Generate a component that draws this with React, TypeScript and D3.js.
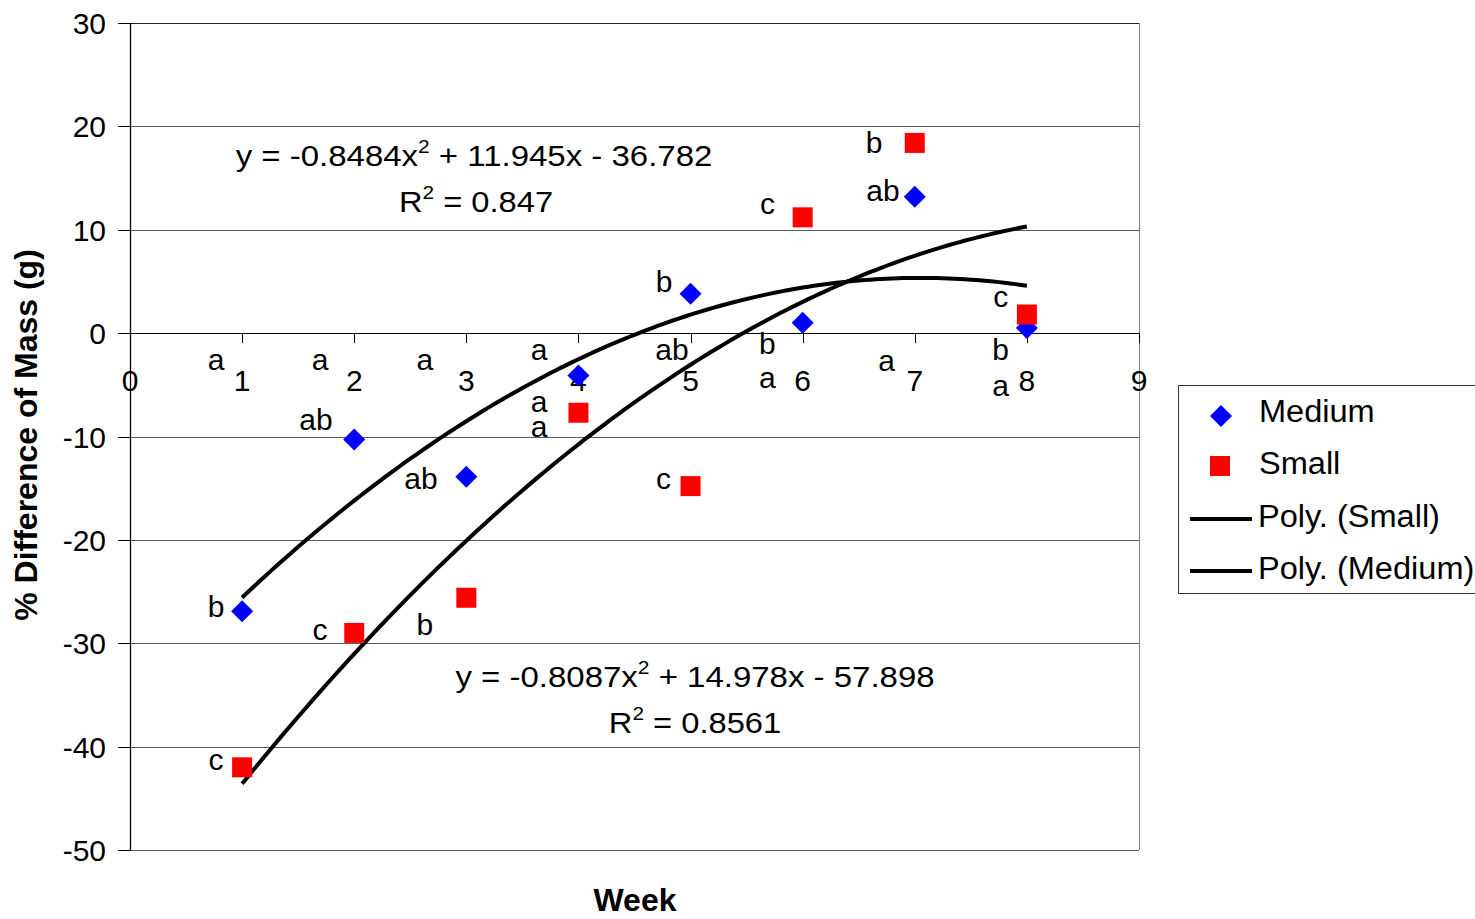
import React from 'react';
import * as d3 from 'd3';

const weeks = [1, 2, 3, 4, 5, 6, 7, 8];
const mediumValues = [-26.9, -10.3, -13.9, -4.1, 3.8, 1.0, 13.2, 0.5];
const smallValues = [-42.0, -29.0, -25.6, -7.7, -14.8, 11.2, 18.4, 1.8];
const xTicks = [0, 1, 2, 3, 4, 5, 6, 7, 8, 9];
const yTicks = [-50, -40, -30, -20, -10, 0, 10, 20, 30];

// significance letters, placed in data coordinates (week, value at text baseline)
const letterLabels = [
  { w: 0.767, v: -3.56, t: 'a' },
  { w: 0.767, v: -27.47, t: 'b' },
  { w: 0.767, v: -42.26, t: 'c' },
  { w: 1.695, v: -3.56, t: 'a' },
  { w: 1.659, v: -9.37, t: 'ab' },
  { w: 1.695, v: -29.68, t: 'c' },
  { w: 2.631, v: -3.56, t: 'a' },
  { w: 2.596, v: -15.08, t: 'ab' },
  { w: 2.631, v: -29.2, t: 'b' },
  { w: 3.648, v: -2.6, t: 'a' },
  { w: 3.648, v: -7.6, t: 'a' },
  { w: 3.648, v: -10.0, t: 'a' },
  { w: 4.835, v: -2.6, t: 'ab' },
  { w: 4.763, v: 3.96, t: 'b' },
  { w: 4.759, v: -15.08, t: 'c' },
  { w: 5.686, v: -1.98, t: 'b' },
  { w: 5.686, v: -5.3, t: 'a' },
  { w: 5.686, v: 11.52, t: 'c' },
  { w: 6.748, v: -3.64, t: 'a' },
  { w: 6.636, v: 17.39, t: 'b' },
  { w: 6.716, v: 12.78, t: 'ab' },
  { w: 7.766, v: -2.64, t: 'b' },
  { w: 7.766, v: -6.12, t: 'a' },
  { w: 7.766, v: 2.55, t: 'c' },
];

const mediumEq = ['y = -0.8484x', '2', ' + 11.945x - 36.782'];
const mediumR2 = ['R', '2', ' = 0.847'];
const smallEq = ['y = -0.8087x', '2', ' + 14.978x - 57.898'];
const smallR2 = ['R', '2', ' = 0.8561'];
const legendLabels = ['Medium', 'Small', 'Poly. (Small)', 'Poly. (Medium)'];

function polyFit2(xs: number[], ys: number[]) {
  let s0 = 0, s1 = 0, s2 = 0, s3 = 0, s4 = 0, t0 = 0, t1 = 0, t2 = 0;
  xs.forEach((x, i) => {
    const y = ys[i];
    s0 += 1; s1 += x; s2 += x * x; s3 += x ** 3; s4 += x ** 4;
    t0 += y; t1 += x * y; t2 += x * x * y;
  });
  const det3 = (m: number[][]) =>
    m[0][0] * (m[1][1] * m[2][2] - m[1][2] * m[2][1]) -
    m[0][1] * (m[1][0] * m[2][2] - m[1][2] * m[2][0]) +
    m[0][2] * (m[1][0] * m[2][1] - m[1][1] * m[2][0]);
  const M = [[s4, s3, s2], [s3, s2, s1], [s2, s1, s0]];
  const T = [t2, t1, t0];
  const D = det3(M);
  const rep = (col: number) => M.map((row, i) => row.map((v, j) => (j === col ? T[i] : v)));
  return [det3(rep(0)) / D, det3(rep(1)) / D, det3(rep(2)) / D];
}

const FONT = '"Liberation Sans", Arial, sans-serif';
const FS = 30;

export default function App() {
  const x = d3.scaleLinear().domain([0, 9]).range([130, 1139]);
  const y = d3.scaleLinear().domain([-50, 30]).range([850, 23]);
  const crisp = (v: number) => Math.round(v) + 0.5;

  const trend = (vals: number[]) => {
    const [a, b, c] = polyFit2(weeks, vals);
    const pts = d3.range(1, 8.0001, 0.05).map((w) => [w, a * w * w + b * w + c] as [number, number]);
    return d3.line<[number, number]>().x((d) => x(d[0])).y((d) => y(d[1]))(pts) || '';
  };

  const diamond = (r: number) => `M0,${-r}L${r},0L0,${r}L${-r},0Z`;

  const supText = (parts: string[], cx: number, by: number, sx: number) => (
    <g transform={`translate(${cx},${by}) scale(${sx},1)`}>
      <text x={0} y={0} textAnchor="middle" fontSize={FS} fontFamily={FONT} fill="#000">
        {parts[0]}
        <tspan fontSize={19} dy={-13}>{parts[1]}</tspan>
        <tspan dy={13}>{parts[2]}</tspan>
      </text>
    </g>
  );

  const legendText = (label: string, lx: number, by: number) => (
    <g transform={`translate(${lx},${by}) scale(1.05,1)`}>
      <text x={0} y={0} fontSize={31} fontFamily={FONT} fill="#000">{label}</text>
    </g>
  );

  const x0 = x(0), x1 = x(9), yTop = y(30), yBot = y(-50), yZero = y(0);

  return (
    <svg width={1475} height={919} style={{ position: 'absolute', left: 0, top: 0, background: '#fff' }}>
      <rect x={0} y={0} width={1475} height={919} fill="#fff" />
      {/* gridlines */}
      {yTicks.map((t) => (
        <line key={'g' + t} x1={x0} x2={x1} y1={crisp(y(t))} y2={crisp(y(t))} stroke={t === 30 ? '#222' : '#5a5a5a'} strokeWidth={1} />
      ))}
      <line x1={crisp(x1)} x2={crisp(x1)} y1={yTop} y2={yBot} stroke="#808080" strokeWidth={1} />
      {/* y axis */}
      <line x1={crisp(x0)} x2={crisp(x0)} y1={yTop} y2={yBot} stroke="#000" strokeWidth={1.3} />
      {yTicks.map((t) => (
        <g key={'yt' + t}>
          <line x1={x0 - 12} x2={x0} y1={crisp(y(t))} y2={crisp(y(t))} stroke="#000" strokeWidth={1} />
          <text x={106} y={y(t) + 11} textAnchor="end" fontSize={FS} fontFamily={FONT} fill="#000">{t}</text>
        </g>
      ))}
      {/* x axis at zero */}
      <line x1={x0} x2={x1} y1={crisp(yZero)} y2={crisp(yZero)} stroke="#000" strokeWidth={1} />
      {xTicks.map((t) => (
        <g key={'xt' + t}>
          <line x1={crisp(x(t))} x2={crisp(x(t))} y1={yZero} y2={yZero + 10} stroke="#000" strokeWidth={1} />
          <text x={x(t)} y={yZero + 58} textAnchor="middle" fontSize={FS} fontFamily={FONT} fill="#000">{t}</text>
        </g>
      ))}
      {/* trend lines */}
      <path d={trend(mediumValues)} fill="none" stroke="#000" strokeWidth={4} strokeLinejoin="round" />
      <path d={trend(smallValues)} fill="none" stroke="#000" strokeWidth={4} strokeLinejoin="round" />
      {/* points */}
      {weeks.map((w, i) => (
        <path key={'m' + w} d={diamond(11)} transform={`translate(${x(w)},${y(mediumValues[i])})`} fill="#0000FF" />
      ))}
      {weeks.map((w, i) => (
        <rect key={'s' + w} x={x(w) - 10} y={y(smallValues[i]) - 10} width={20} height={20} fill="#FF0000" />
      ))}
      {/* letters */}
      {letterLabels.map((l, i) => (
        <text key={'l' + i} x={x(l.w)} y={y(l.v)} textAnchor="middle" fontSize={FS} fontFamily={FONT} fill="#000">{l.t}</text>
      ))}
      {/* equations */}
      {supText(mediumEq, 474, 166, 1.1)}
      {supText(mediumR2, 476, 212, 1.09)}
      {supText(smallEq, 695, 687, 1.1)}
      {supText(smallR2, 695, 733, 1.09)}
      {/* axis titles */}
      <text transform="translate(37,435) rotate(-90)" textAnchor="middle" fontSize={32} fontWeight="bold" fontFamily={FONT} fill="#000">% Difference of Mass (g)</text>
      <text x={635} y={911} textAnchor="middle" fontSize={32} fontWeight="bold" fontFamily={FONT} fill="#000">Week</text>
      {/* legend */}
      <rect x={1178.5} y={385.5} width={320} height={208} fill="#fff" stroke="#333" strokeWidth={1} />
      <path d={diamond(11)} transform="translate(1221,416)" fill="#0000FF" />
      {legendText(legendLabels[0], 1259, 422)}
      <rect x={1210} y={456} width={20} height={20} fill="#FF0000" />
      {legendText(legendLabels[1], 1259, 474)}
      <line x1={1190} x2={1252} y1={519} y2={519} stroke="#000" strokeWidth={4} />
      {legendText(legendLabels[2], 1258, 527)}
      <line x1={1190} x2={1252} y1={571} y2={571} stroke="#000" strokeWidth={4} />
      {legendText(legendLabels[3], 1258, 579)}
    </svg>
  );
}
